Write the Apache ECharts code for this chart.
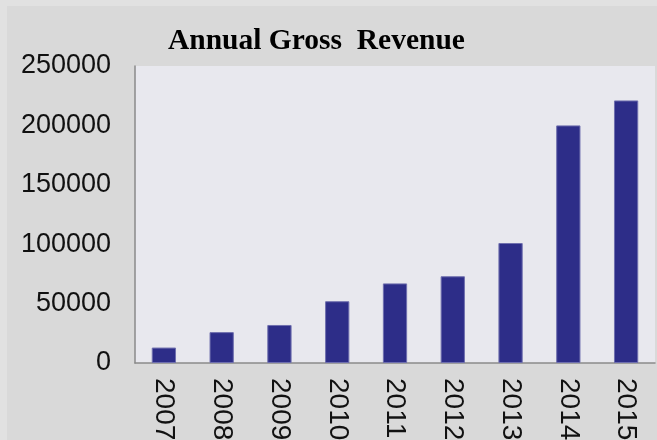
<!DOCTYPE html>
<html>
<head>
<meta charset="utf-8">
<script src="https://cdn.jsdelivr.net/npm/echarts@6/dist/echarts.min.js"></script>
<style>
  html, body { margin: 0; padding: 0; background: #e1e1e1; }
  #chart { width: 657px; height: 440px; }
</style>
</head>
<body>
<div id="chart"></div>
<script>
// data
const years = ['2007', '2008', '2009', '2010', '2011', '2012', '2013', '2014', '2015']
const revenue = [13000, 26000, 32000, 52000, 67000, 73000, 101000, 200000, 221000]
const yTicks = { min: 0, max: 250000, interval: 50000 }

const chart = echarts.init(document.getElementById('chart'), null, { renderer: 'canvas' })

chart.setOption({
  animation: false,
  backgroundColor: '#e1e1e1',
  graphic: [
    {
      type: 'rect',
      z: -10,
      shape: { x: 7, y: 6, width: 660, height: 440 },
      style: { fill: '#d9d9d9' }
    }
  ],
  title: {
    text: 'Annual Gross  Revenue',
    left: 168,
    top: 26,
    padding: 0,
    textStyle: {
      fontFamily: 'Liberation Serif',
      fontWeight: 'bold',
      fontSize: 29.5,
      color: '#000'
    }
  },
  grid: {
    show: true,
    left: 135,
    right: 2,
    top: 66,
    bottom: 77,
    outerBoundsMode: 'none',
    containLabel: false,
    backgroundColor: '#e8e8ee',
    borderWidth: 0
  },
  xAxis: {
    type: 'category',
    data: years,
    axisLine: { show: true, lineStyle: { color: '#8a8a8a', width: 1.5 } },
    axisTick: { show: false },
    axisLabel: {
      rotate: -90,
      margin: 15,
      fontFamily: 'Liberation Sans',
      fontSize: 28,
      color: '#111'
    }
  },
  yAxis: {
    type: 'value',
    min: yTicks.min,
    max: yTicks.max,
    interval: yTicks.interval,
    splitLine: { show: false },
    axisTick: { show: false },
    axisLine: { show: true, lineStyle: { color: '#8a8a8a', width: 1.5 } },
    axisLabel: {
      margin: 24,
      fontFamily: 'Liberation Sans',
      fontSize: 27,
      color: '#111',
      formatter: v => String(v)
    }
  },
  series: [
    {
      type: 'bar',
      data: revenue,
      barWidth: '42%',
      itemStyle: {
        color: '#2d2d88',
        borderColor: '#6f6fae',
        borderWidth: 1
      }
    }
  ]
})
</script>
</body>
</html>
